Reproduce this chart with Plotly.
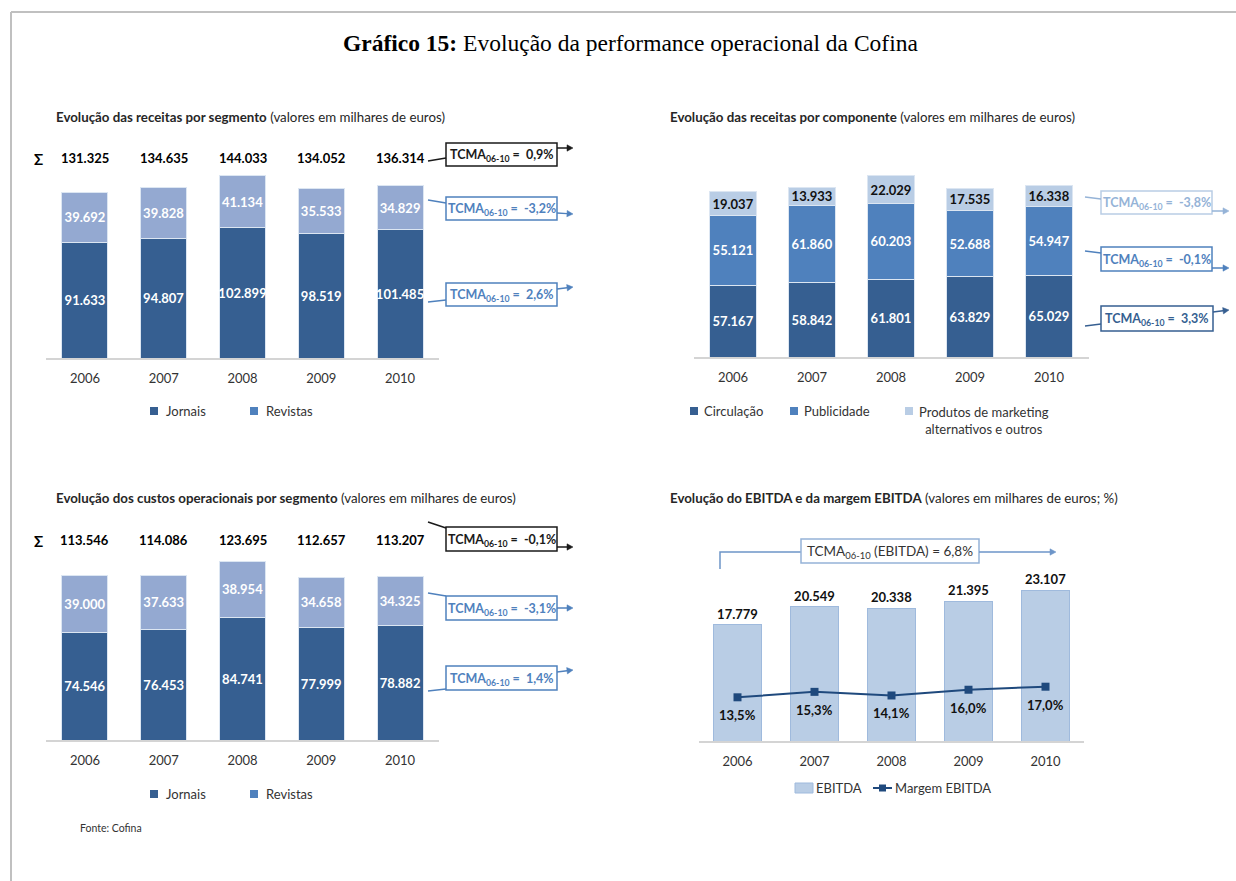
import math
import plotly.graph_objects as go

W, H = 1236, 881

# ---------------- data ----------------
years = ["2006", "2007", "2008", "2009", "2010"]

# Evolução das receitas por segmento
rec_jornais = [91633, 94807, 102899, 98519, 101485]
rec_revistas = [39692, 39828, 41134, 35533, 34829]
tcma_rec = ["0,9%", "-3,2%", "2,6%"]

# Evolução das receitas por componente
comp_circulacao = [57167, 58842, 61801, 63829, 65029]
comp_publicidade = [55121, 61860, 60203, 52688, 54947]
comp_produtos = [19037, 13933, 22029, 17535, 16338]
tcma_comp = ["-3,8%", "-0,1%", "3,3%"]

# Evolução dos custos operacionais por segmento
cus_jornais = [74546, 76453, 84741, 77999, 78882]
cus_revistas = [39000, 37633, 38954, 34658, 34325]
tcma_cus = ["-0,1%", "-3,1%", "1,4%"]

# Evolução do EBITDA e da margem EBITDA
ebitda = [17779, 20549, 20338, 21395, 23107]
margem = [13.5, 15.3, 14.1, 16.0, 17.0]
tcma_ebitda = "6,8%"

# ---------------- style ----------------
FONT = "Lato"
DARK = "#365f91"
REV = "#94a9d1"
MED = "#4f81bd"
LIGHT = "#b9cde5"
LINEC = "#1f497d"
AXIS = "#d4d4d4"
TXT = "#262626"


def fx(x):
    return x / W


def fy(y):
    return 1 - y / H


def fmt(v):
    return f"{v:,}".replace(",", ".")


def pct(v):
    return f"{v:.1f}%".replace(".", ",")


fig = go.Figure()

BW = 0.584  # bar width (category units)


def stacked(xa, ya, series):
    for vals, color, tcolor in series:
        fig.add_trace(go.Bar(
            x=years, y=vals, xaxis=xa, yaxis=ya, width=BW,
            marker=dict(color=color, line=dict(color="#dce6f2", width=1)),
            text=[f"<b>{fmt(v)}</b>" for v in vals],
            textposition="inside", insidetextanchor="middle", textangle=0,
            textfont=dict(color=tcolor, size=13, family=FONT),
            showlegend=False, hoverinfo="skip", cliponaxis=False,
        ))


stacked("x", "y", [(rec_jornais, DARK, "white"), (rec_revistas, REV, "white")])
stacked("x2", "y2", [(comp_circulacao, DARK, "white"),
                     (comp_publicidade, MED, "white"),
                     (comp_produtos, LIGHT, "#111111")])
stacked("x3", "y3", [(cus_jornais, DARK, "white"), (cus_revistas, REV, "white")])

fig.add_trace(go.Bar(
    x=years, y=ebitda, xaxis="x4", yaxis="y4", width=0.636,
    marker=dict(color=LIGHT, line=dict(color="#9fbadd", width=1)),
    text=[f"<b>{fmt(v)}</b>" for v in ebitda], textposition="outside", textangle=0,
    textfont=dict(color="#111111", size=13, family=FONT),
    showlegend=False, hoverinfo="skip", cliponaxis=False,
))
fig.add_trace(go.Scatter(
    x=years, y=margem, xaxis="x4", yaxis="y5", mode="lines+markers",
    line=dict(color=LINEC, width=2),
    marker=dict(symbol="square", size=8, color=LINEC),
    showlegend=False, hoverinfo="skip", cliponaxis=False,
))

# ---------------- axes ----------------
def xax(left, right, anchor):
    return dict(domain=[fx(left), fx(right)], type="category", anchor=anchor,
                range=[-0.5, len(years) - 0.5],
                showline=True, linecolor=AXIS, linewidth=2,
                showgrid=False, zeroline=False, ticks="",
                ticklabelstandoff=7,
                tickfont=dict(family=FONT, size=13, color="#333333"),
                fixedrange=True)


def yax(bottom, scale, vmax, anchor):
    top = bottom - vmax * scale
    return dict(domain=[fy(bottom), fy(top)], range=[0, vmax], anchor=anchor,
                visible=False, showgrid=False, zeroline=False, fixedrange=True)


# chart 4 secondary axis
b4, s4, v4 = 741, 6.525 / 1000, 27000
h4 = v4 * s4
r0 = -0.92
r1 = r0 + h4 / 3.03

fig.update_layout(
    width=W, height=H,
    margin=dict(l=0, r=0, t=0, b=0, pad=0, autoexpand=False),
    paper_bgcolor="white", plot_bgcolor="rgba(0,0,0,0)",
    barmode="stack",
    uniformtext=dict(minsize=13, mode="show"),
    font=dict(family=FONT, color=TXT),
    xaxis=xax(45.6, 439.4, "y"), yaxis=yax(358, 1.264 / 1000, 150000, "x"),
    xaxis2=xax(693.5, 1088.5, "y2"), yaxis2=yax(357, 1.258 / 1000, 150000, "x2"),
    xaxis3=xax(45.6, 439.4, "y3"), yaxis3=yax(740, 1.446 / 1000, 130000, "x3"),
    xaxis4=xax(699, 1084, "y4"), yaxis4=yax(b4, s4, v4, "x4"),
    yaxis5=dict(domain=[fy(b4), fy(b4 - h4)], range=[r0, r1], overlaying="y4",
                side="right", visible=False, anchor="x4", fixedrange=True),
)

shapes = []
ann = []


def text(x, y, s, size=12, color=TXT, xanchor="left", family=FONT, yanchor="middle"):
    ann.append(dict(x=fx(x), y=fy(y), xref="paper", yref="paper",
                    text=s, showarrow=False, xanchor=xanchor, yanchor=yanchor,
                    font=dict(family=family, size=size, color=color)))


def line(x0, y0, x1, y1, color, width=1.5):
    shapes.append(dict(type="line", xref="paper", yref="paper",
                       x0=fx(x0), y0=fy(y0), x1=fx(x1), y1=fy(y1),
                       line=dict(color=color, width=width)))


def arrow(xt, yt, xh, yh, color, hl=6.0, hw=3.2):
    dx, dy = xh - xt, yh - yt
    L = math.hypot(dx, dy)
    ux, uy = dx / L, dy / L
    nx, ny = -uy, ux
    bx, by = xh - hl * ux, yh - hl * uy
    line(xt, yt, bx, by, color)
    pts = [(xh, yh), (bx + hw * nx, by + hw * ny), (bx - hw * nx, by - hw * ny)]
    path = "M " + " L ".join(f"{fx(px)},{fy(py)}" for px, py in pts) + " Z"
    shapes.append(dict(type="path", xref="paper", yref="paper", path=path,
                       fillcolor=color, line=dict(color=color, width=0.5)))


def box(x0, y0, x1, y1, s, border, tcolor, bold=True, size=12.5):
    shapes.append(dict(type="rect", xref="paper", yref="paper",
                       x0=fx(x0), y0=fy(y0), x1=fx(x1), y1=fy(y1),
                       line=dict(color=border, width=1.5), fillcolor="white"))
    t = f"<b>{s}</b>" if bold else s
    text((x0 + x1) / 2, (y0 + y1) / 2 + 1, t, size=size, color=tcolor, xanchor="center")


def tcma(v):
    return f"TCMA<sub>06-10</sub> =  {v}"


# page frame
line(11, 12, 1236, 12, "#c0c0c0", 2)
line(11, 12, 11, 881, "#c0c0c0", 2)

# main title
text(630, 43, "<b>Gráfico 15:</b> Evolução da performance operacional da Cofina",
     size=23.5, color="black", xanchor="center", family="Liberation Serif")

# subtitles
text(54, 117, "<b>Evolução das receitas por segmento</b> (valores em milhares de euros)", size=13.3)
text(668, 117, "<b>Evolução das receitas por componente</b> (valores em milhares de euros)", size=13.3)
text(54, 498, "<b>Evolução dos custos operacionais por segmento</b> (valores em milhares de euros)", size=13.3)
text(668, 498, "<b>Evolução do EBITDA e da margem EBITDA</b> (valores em milhares de euros; %)", size=13.3)

# totals rows (sum of the stacked segments)
text(38, 159, "<b>Σ</b>", size=15, color="black", xanchor="center")
text(38, 541, "<b>Σ</b>", size=15, color="black", xanchor="center")
for i, (a, b) in enumerate(zip(rec_jornais, rec_revistas)):
    ann.append(dict(x=i, y=fy(158), xref="x", yref="paper", text=f"<b>{fmt(a + b)}</b>",
                    showarrow=False, xanchor="center", yanchor="middle",
                    font=dict(family=FONT, size=13, color="black")))
for i, (a, b) in enumerate(zip(cus_jornais, cus_revistas)):
    ann.append(dict(x=i, y=fy(540), xref="x3", yref="paper", text=f"<b>{fmt(a + b)}</b>",
                    showarrow=False, xanchor="center", yanchor="middle",
                    font=dict(family=FONT, size=13, color="black")))

# margin labels below the line markers
for i, v in enumerate(margem):
    ann.append(dict(x=i, y=v, xref="x4", yref="y5", text=f"<b>{pct(v)}</b>",
                    showarrow=False, xanchor="center", yanchor="middle", yshift=-18,
                    font=dict(family=FONT, size=13, color="#111111")))

# TCMA boxes chart 1
box(446, 143, 557, 166, tcma(tcma_rec[0]), "#1a1a1a", "#1a1a1a")
line(428, 161, 446, 158, "#1a1a1a")
arrow(557, 148, 573, 148, "#1a1a1a")
box(446, 197, 557, 220, tcma(tcma_rec[1]), MED, MED)
line(428, 200, 446, 203, MED)
arrow(557, 213, 573, 214, MED)
box(446, 283, 557, 306, tcma(tcma_rec[2]), MED, MED)
line(428, 302, 446, 300, MED)
arrow(557, 289, 573, 287, MED)

# TCMA boxes chart 2
box(1101, 191, 1212, 214, tcma(tcma_comp[0]), LIGHT, "#95b3d7")
line(1085, 197, 1101, 199, "#95b3d7")
arrow(1212, 211, 1229, 211, "#95b3d7")
box(1101, 247, 1212, 271, tcma(tcma_comp[1]), MED, MED)
line(1085, 251, 1101, 253, MED)
arrow(1212, 268, 1229, 268, MED)
box(1101, 306, 1213, 331, tcma(tcma_comp[2]), DARK, DARK)
line(1085, 326, 1101, 324, DARK)
arrow(1213, 312, 1229, 310, DARK)

# TCMA boxes chart 3
box(446, 527, 557, 551, tcma(tcma_cus[0]), "#1a1a1a", "#1a1a1a")
line(428, 522, 446, 528, "#1a1a1a")
arrow(557, 547, 573, 547, "#1a1a1a")
box(446, 596, 557, 620, tcma(tcma_cus[1]), MED, MED)
line(428, 593, 446, 596, MED)
arrow(557, 608, 573, 608, MED)
box(446, 666, 557, 690, tcma(tcma_cus[2]), MED, MED)
line(428, 691, 446, 689, MED)
arrow(557, 672, 573, 670, MED)

# chart 4 bracket + box
shapes.append(dict(type="path", xref="paper", yref="paper",
                   path=f"M {fx(720)},{fy(569)} L {fx(720)},{fy(552)} L {fx(801)},{fy(552)}",
                   line=dict(color="#6d95c8", width=1.5)))
box(801, 539, 979, 563, f"TCMA<sub>06-10</sub> (EBITDA) = {tcma_ebitda}", "#95b3d7", "#333333",
    bold=False, size=13.5)
arrow(979, 552, 1056, 552, "#6d95c8")


# legends
def sq(x, y, color, w=8, h=8):
    shapes.append(dict(type="rect", xref="paper", yref="paper",
                       x0=fx(x), y0=fy(y - h / 2), x1=fx(x + w), y1=fy(y + h / 2),
                       line=dict(width=0), fillcolor=color))


for yy in (411, 794):
    sq(150, yy, DARK)
    text(164, yy, "Jornais", size=13, color="#333333")
    sq(250, yy, MED)
    text(264, yy, "Revistas", size=13, color="#333333")

sq(690, 411, DARK)
text(702, 411, "Circulação", size=13, color="#333333")
sq(790, 411, MED)
text(802, 411, "Publicidade", size=13, color="#333333")
sq(905, 411, LIGHT)
text(917, 402, "Produtos de marketing<br>alternativos e outros", size=13, color="#333333",
     yanchor="top")

shapes.append(dict(type="rect", xref="paper", yref="paper",
                   x0=fx(795), y0=fy(793), x1=fx(813), y1=fy(783),
                   line=dict(color="#9fbadd", width=1), fillcolor=LIGHT))
text(814, 788, "EBITDA", size=13, color="#333333")
line(873, 788, 892, 788, LINEC, 2)
sq(879, 788, LINEC, 7, 7)
text(893, 788, "Margem EBITDA", size=13, color="#333333")

text(78, 828, "Fonte: Cofina", size=10.5, color="#333333")

fig.update_layout(shapes=shapes, annotations=ann)
fig.write_html("out.html")
